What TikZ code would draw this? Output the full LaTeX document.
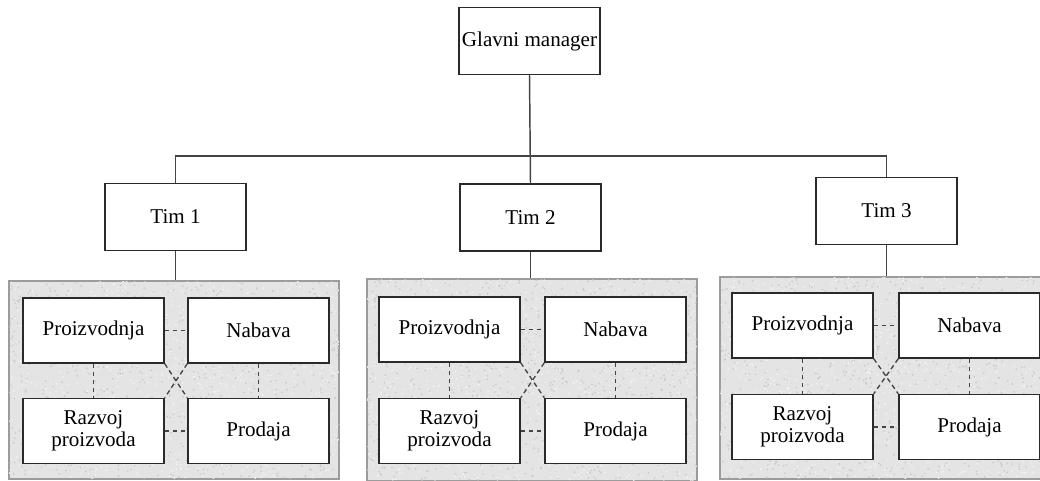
\documentclass[tikz,border=0pt]{standalone}
\usepackage{fontspec}
\setmainfont{Liberation Serif}
\definecolor{boxline}{HTML}{2A2A2A}
\definecolor{wire}{HTML}{444444}
\definecolor{panelfill}{HTML}{E4E4E4}
\definecolor{panelline}{HTML}{9C9C9C}
\definecolor{speckdark}{HTML}{C8C8C8}
\definecolor{specklight}{HTML}{F4F4F4}
\begin{document}
\begin{tikzpicture}[x=0.75pt,y=-0.75pt,
  box/.style={draw=boxline,line width=1.1pt,fill=white,
    minimum width=105.75pt,minimum height=48.75pt,inner sep=2pt,
    align=center,font=\fontsize{15.8}{16.5}\selectfont},
  headbox/.style={box,minimum height=50pt},
  panel/.style={draw=panelline,line width=1.1pt,fill=panelfill,
    minimum width=247.5pt,inner sep=0pt},
  solidwire/.style={draw=wire,line width=1.1pt},
  dashwire/.style={draw=wire,line width=1pt,dash pattern=on 3.5pt off 2.5pt}]
\useasboundingbox (0,0) rectangle (1040,481);
\clip (0,0) rectangle (1040,481);
\pgfmathsetseed{4711}

% top of the hierarchy
\node[headbox] (glavni) at (529.5,41) {Glavni manager};
\node[headbox] (tim1) at (175.5,217) {Tim 1};
\node[headbox] (tim2) at (530.5,217.5) {Tim 2};
\node[headbox] (tim3) at (886.5,211) {Tim 3};

\coordinate (bus) at (530.5,156);
\draw[solidwire] (tim1.north) |- (bus) -| (tim3.north);
\draw[solidwire] (glavni.south) -- (tim2.north);

% one speckled panel with four departments per team
\foreach \k/\px/\py/\pb/\lx/\rx/\ty/\by in
  {1/9/281/479/23/188/298/398,
   2/367/279/481/379/545/297/398,
   3/720/277/479/732/899/293/394}{
  \node[panel,minimum height={(\pb-\py)*0.75pt}] (panel\k)
    at ({\px+165},{(\py+\pb)/2}) {};
  \begin{scope}
    \clip (panel\k.north west) rectangle (panel\k.south east);
    \foreach \i in {1,...,900}{
      \fill[speckdark] ({\px+330*rnd},{\py+(\pb-\py)*rnd}) circle (0.9);
      \fill[specklight] ({\px+330*rnd},{\py+(\pb-\py)*rnd}) circle (0.9);
    }
  \end{scope}
  \draw[draw=panelline,line width=1.1pt]
    (panel\k.north west) rectangle (panel\k.south east);
  \draw[solidwire] (tim\k.south) -- (tim\k.south |- panel\k.north);
  \node[box] (proiz\k) at ({\lx+70.5},{\ty+32.5}) {Proizvodnja};
  \node[box] (nabava\k) at ({\rx+70.5},{\ty+32.5}) {Nabava};
  \node[box] (razvoj\k) at ({\lx+70.5},{\by+33}) {Razvoj\\proizvoda};
  \node[box] (prodaja\k) at ({\rx+70.5},{\by+33}) {Prodaja};
  \draw[dashwire] (proiz\k.east) -- (nabava\k.west);
  \draw[dashwire] (razvoj\k.east) -- (prodaja\k.west);
  \draw[dashwire] (proiz\k.south) -- (razvoj\k.north);
  \draw[dashwire] (nabava\k.south) -- (prodaja\k.north);
  \draw[dashwire] (proiz\k.south east) -- (prodaja\k.north west);
  \draw[dashwire] (nabava\k.south west) -- (razvoj\k.north east);
}
\end{tikzpicture}
\end{document}
